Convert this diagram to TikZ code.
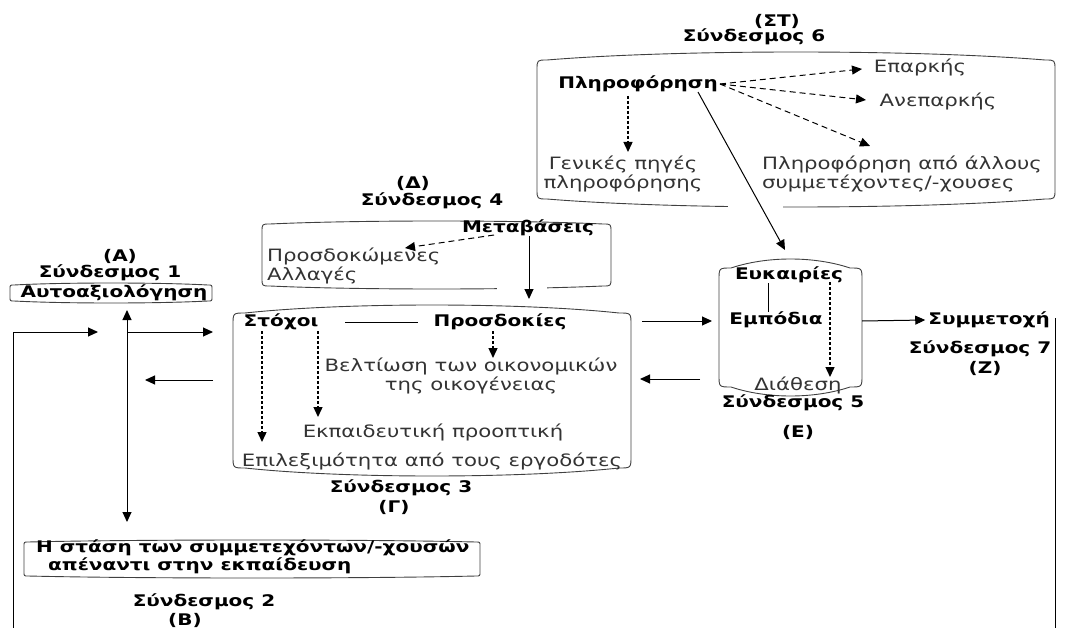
\documentclass[tikz,border=0pt]{standalone}
\usepackage{fontspec}
\setmainfont{DejaVu Sans}[FakeStretch=1.25]
\usetikzlibrary{arrows.meta}
\newcommand\bowbox[7][]{%
\draw[boxline,#1] ({#2},{#5-#6-#7}) -- ({#2},{#3+#6+#7})
 .. controls ({#2},{#3+#6}) .. ({#2+#7},{#3+#6})
 .. controls ({#2+#7+(#4-#2)/4},{#3-#6/3}) and ({#4-#7-(#4-#2)/4},{#3-#6/3}) .. ({#4-#7},{#3+#6})
 .. controls ({#4},{#3+#6}) .. ({#4},{#3+#6+#7})
 -- ({#4},{#5-#6-#7})
 .. controls ({#4},{#5-#6}) .. ({#4-#7},{#5-#6})
 .. controls ({#4-#7-(#4-#2)/4},{#5+#6/3}) and ({#2+#7+(#4-#2)/4},{#5+#6/3}) .. ({#2+#7},{#5-#6})
 .. controls ({#2},{#5-#6}) .. ({#2},{#5-#6-#7}) -- cycle;}
\begin{document}
\begin{tikzpicture}[x=1pt,y=-1pt,
  boxline/.style={draw=black!75,line width=0.9pt},
  txt/.style={font=\fontsize{17}{19}\selectfont,text=black!80,inner sep=0pt},
  btxt/.style={font=\fontsize{16}{20}\selectfont\bfseries,text=black,inner sep=0pt},
  arr/.style={-{Triangle[length=10pt,width=9pt]},line width=1pt},
  darr/.style={arr,dash pattern=on 6pt off 4pt},
  dotarr/.style={arr,dash pattern=on 3pt off 2pt,line width=1.4pt},
  link/.style={line width=1pt}]
\useasboundingbox (0,0) rectangle (1067,628);
% boxes
\bowbox{537}{52}{1055}{207}{8}{10}
\bowbox{262}{221}{611}{289}{3}{8}
\bowbox{10}{283}{212}{303}{2}{4}
\bowbox{233}{305}{631}{476}{8}{12}
\bowbox{719}{259}{862}{396}{9}{12}
\bowbox{24}{540}{480}{578}{2}{4}
\fill[white] (728,194) rectangle (783,214);
\fill[white] (497,283) rectangle (547,294);
% (ST)
\node[btxt] (labST) at (777,21) {(ΣΤ)};
\node[btxt] (s6) at (754,37) {Σύνδεσμος 6};
\node[btxt] (pl) at (638,84) {Πληροφόρηση};
\node[txt] (ep) at (920,67) {Επαρκής};
\node[txt] (anep) at (938,101) {Ανεπαρκής};
\node[txt,align=center] (gen) at (623,174) {Γενικές πηγές\\πληροφόρησης};
\node[txt,align=left,anchor=west] (allous) at (762,174) {Πληροφόρηση από άλλους\\συμμετέχοντες/-χουσες};
\coordinate (plE) at (720,84);
\coordinate (epTip) at (862,69);
\coordinate (anepTip) at (866,100);
\coordinate (allousTip) at (870,146);
\draw[darr] (plE) -- (epTip);
\draw[darr] (plE) -- (anepTip);
\draw[darr] (plE) -- (allousTip);
\coordinate (plS) at (628,96);
\coordinate (genN) at (628,152);
\draw[dotarr] (plS) -- (genN);
% (D)
\node[btxt] (labD) at (413,183) {(Δ)};
\node[btxt] (s4) at (432,201) {Σύνδεσμος 4};
\node[btxt] (met) at (528,228) {Μεταβάσεις};
\node[txt,align=left,anchor=west] (prosd) at (267,266) {Προσδοκώμενες\\Αλλαγές};
\coordinate (metL) at (494,235);
\coordinate (prosdTip) at (405,248);
\draw[darr] (metL) -- (prosdTip);
\coordinate (metS) at (529,236);
\coordinate (gTop) at (529,299);
\draw[arr] (metS) -- (gTop);
% (A)
\node[btxt] (labA) at (120,256) {(A)};
\node[btxt] (s1) at (110,273) {Σύνδεσμος 1};
\node[btxt] (aut) at (114,293) {Αυτοαξιολόγηση};
% (G)
\node[btxt] (sto) at (281,322) {Στόχοι};
\node[btxt] (prd) at (500,322) {Προσδοκίες};
\draw[link] (345,322) -- (418,322);
\coordinate (stoA) at (262,331); \coordinate (stoAe) at (262,442);
\coordinate (stoB) at (318,331); \coordinate (stoBe) at (318,417);
\coordinate (prdA) at (493,331); \coordinate (prdAe) at (493,358);
\draw[dotarr] (stoA) -- (stoAe);
\draw[dotarr] (stoB) -- (stoBe);
\draw[dotarr] (prdA) -- (prdAe);
\node[txt,align=center] (belt) at (471,376) {Βελτίωση των οικονομικών\\της οικογένειας};
\node[txt] (ekp) at (433,432) {Εκπαιδευτική προοπτική};
\node[txt] (epil) at (432,461) {Επιλεξιμότητα από τους εργοδότες};
\node[btxt] (s3) at (401,488) {Σύνδεσμος 3};
\node[btxt] (labG) at (394,507) {(Γ)};
% (E)
\node[btxt] (euk) at (789,275) {Ευκαιρίες};
\node[btxt] (emp) at (776,320) {Εμπόδια};
\coordinate (eukS) at (768,283); \coordinate (empN) at (768,312);
\draw[link] (eukS) -- (empN);
\coordinate (eukD) at (830,282); \coordinate (diathN) at (830,377);
\draw[dotarr] (eukD) -- (diathN);
\node[txt] (diath) at (798,385) {Διάθεση};
\node[btxt] (s5) at (793,403) {Σύνδεσμος 5};
\node[btxt] (labE) at (798,432) {(Ε)};
\coordinate (eTop) at (785,250);
\coordinate (plD) at (698,92);
\draw[arr] (plD) -- (eTop);
% (Z)
\node[btxt,anchor=east] (sum) at (1050,320) {Συμμετοχή};
\node[btxt] (s7) at (980,349) {Σύνδεσμος 7};
\node[btxt] (labZ) at (985,368) {(Ζ)};
\coordinate (eR) at (862,321);
\draw[arr] (eR) -- ([xshift=-3pt]sum.west);
\coordinate (gR) at (642,321); \coordinate (eL) at (712,321);
\draw[arr] (gR) -- (eL);
\coordinate (eL2) at (700,379); \coordinate (gR2) at (640,379);
\draw[arr] (eL2) -- (gR2);
% (B)
\node[btxt,anchor=west] (st1) at (36,548) {Η στάση των συμμετεχόντων/-χουσών};
\node[btxt,anchor=west] (st2) at (48,566) {απέναντι στην εκπαίδευση};
\node[btxt] (s2) at (204,602) {Σύνδεσμος 2};
\node[btxt] (labB) at (185,620) {(Β)};
% left side
\coordinate (autS) at (127,310); \coordinate (bTop) at (127,522);
\draw[{Triangle[length=10pt,width=9pt]}-{Triangle[length=10pt,width=9pt]},line width=1pt] (autS) -- (bTop);
\coordinate (midA) at (128,332); \coordinate (gL) at (213,332);
\draw[arr] (midA) -- (gL);
\coordinate (gL2) at (213,380); \coordinate (midB) at (145,380);
\draw[arr] (gL2) -- (midB);
\coordinate (loopR) at (1055,318); \coordinate (loopRb) at (1055,628);
\draw[link] (loopR) -- (loopRb);
\coordinate (loopLb) at (13,628); \coordinate (loopLt) at (13,332); \coordinate (loopE) at (98,332);
\draw[arr] (loopLb) -- (loopLt) -- (loopE);
\end{tikzpicture}
\end{document}
